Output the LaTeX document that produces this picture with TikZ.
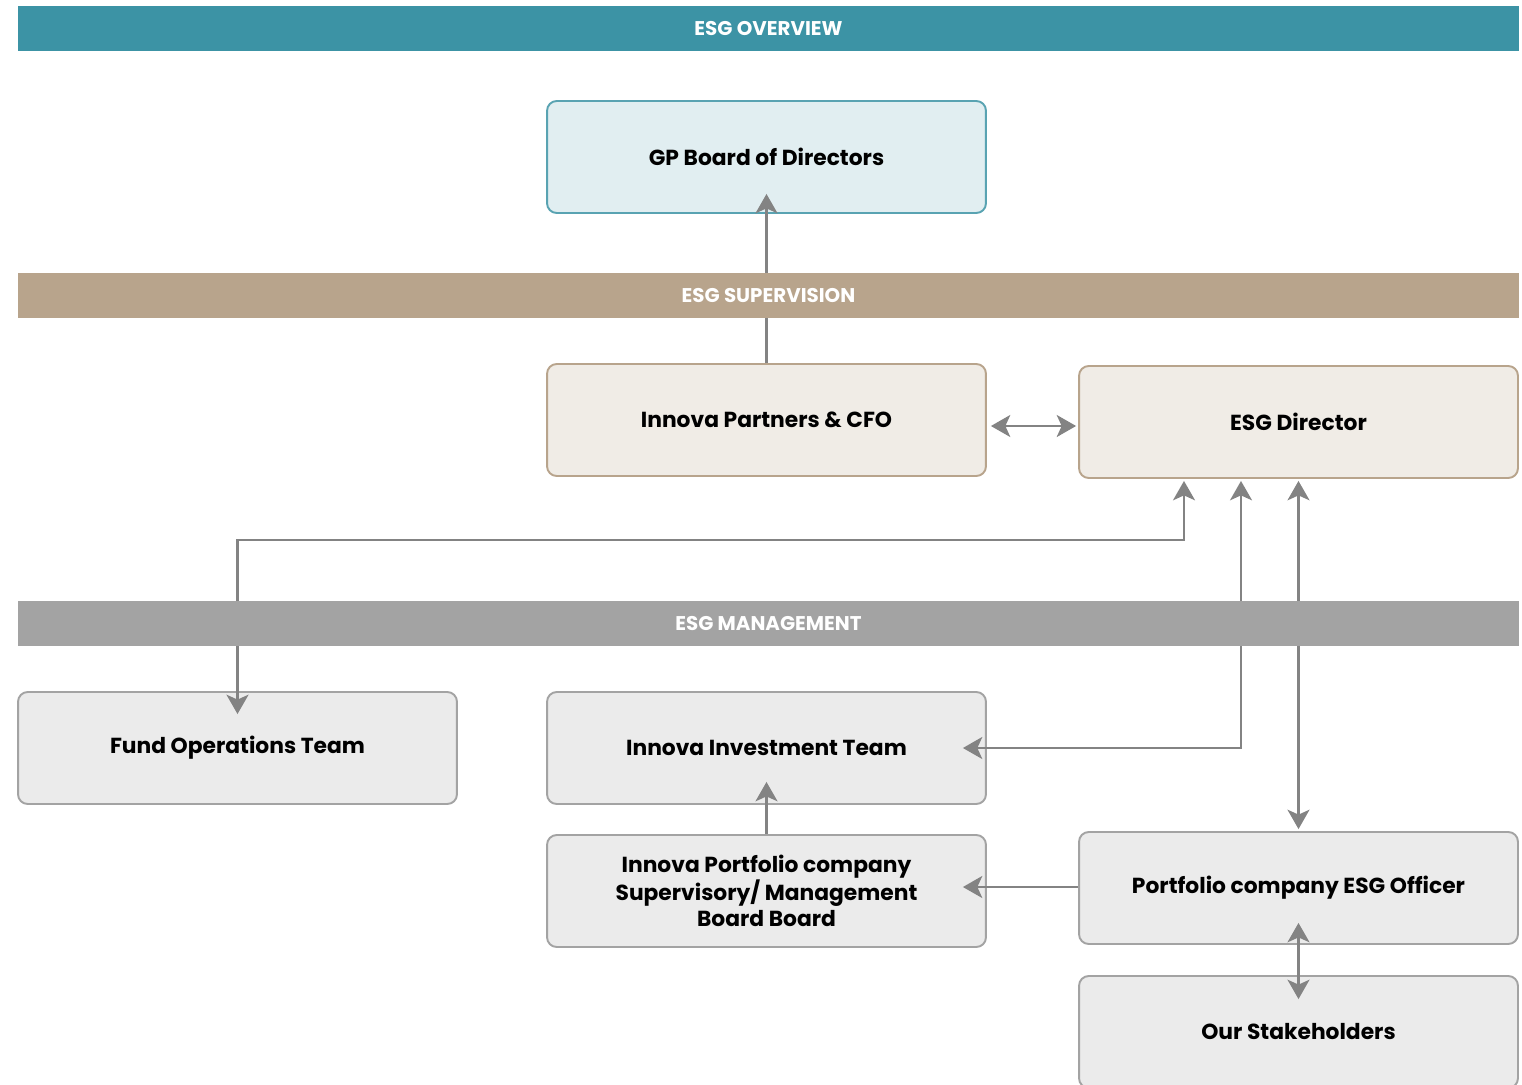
\documentclass[tikz,border=0pt]{standalone}
\usepackage{fontspec}
\setmainfont{Poppins}
\usetikzlibrary{arrows.meta,calc}
\definecolor{teal}{HTML}{3C93A5}
\definecolor{tan}{HTML}{B8A48C}
\definecolor{midgray}{HTML}{A3A3A3}
\definecolor{gpfill}{HTML}{E1EEF1}
\definecolor{tanfill}{HTML}{F0ECE6}
\definecolor{grayfill}{HTML}{EBEBEB}
\definecolor{conngray}{HTML}{838383}
\begin{document}
\begin{tikzpicture}[x=0.02cm,y=-0.02cm,
  box/.style={rounded corners=5.5pt,line width=1.1pt,minimum width=8.78cm,minimum height=2.24cm,
    inner sep=2pt,align=center,font=\fontsize{12.4}{14.8}\selectfont\bfseries,text=black},
  gpbox/.style={box,draw=teal!85,fill=gpfill},
  tanbox/.style={box,draw=tan,fill=tanfill},
  graybox/.style={box,draw=midgray,fill=grayfill},
  bar/.style={minimum width=30.02cm,minimum height=0.9cm,inner sep=0pt,text=white,
    font=\fontsize{11.3}{13}\selectfont\bfseries},
  conn/.style={draw=conngray,line width=1.4pt},
  tip/.tip={Stealth[length=11pt,width=12.5pt,inset=2.8pt]},
]
\useasboundingbox (0,0) rectangle (1522,1085);
% boxes
\node[gpbox] (gp) at (766.5,157) {GP Board of Directors};
\node[tanbox] (partners) at (766.5,420) {Innova Partners \& CFO};
\node[tanbox] (esgdir) at (1298.5,422) {ESG Director};
\node[graybox] (fundops) at (237.5,748) {Fund Operations Team};
\node[graybox] (invest) at (766.5,748) {Innova Investment Team};
\node[graybox] (pcsup) at (766.5,891) {Innova Portfolio company\\Supervisory/ Management\\Board Board};
\node[graybox] (officer) at (1298.5,888) {Portfolio company ESG Officer};
\node[graybox] (stake) at (1298.5,1032) {Our Stakeholders};
% connector coordinates
\coordinate (d1) at ($(esgdir.south)+(-114.5,2)$);
\coordinate (d2) at ($(esgdir.south)+(-57.5,2)$);
\coordinate (d3) at ($(esgdir.south)+(0,2)$);
% connectors
\draw[conn,-tip] (partners.north) -- ($(gp.south)+(0,-20)$);
\draw[conn,tip-tip] ($(partners.east)+(4,6)$) -- ($(esgdir.west)+(-2,4)$);
\draw[conn,tip-tip] ($(fundops.north)+(0,23)$) -- ($(fundops.north)+(0,-151)$) -| (d1);
\draw[conn,tip-tip] ($(invest.east)+(-24,0)$) -| (d2);
\draw[conn,tip-tip] (d3) -- ($(officer.north)+(0,-2)$);
\draw[conn,-tip] (pcsup.north) -- ($(invest.south)+(0,-23)$);
\draw[conn,-tip] ($(officer.west)+(0,-1)$) -- ($(pcsup.east)+(-24,-4)$);
\draw[conn,tip-tip] ($(officer.south)+(0,-22)$) -- ($(stake.north)+(0,24)$);
% bars
\node[bar,fill=teal] (overview) at (768.5,28.5) {ESG OVERVIEW};
\node[bar,fill=tan] (supervision) at (768.5,295.5) {ESG SUPERVISION};
\node[bar,fill=midgray] (management) at (768.5,623.5) {ESG MANAGEMENT};
\end{tikzpicture}
\end{document}
